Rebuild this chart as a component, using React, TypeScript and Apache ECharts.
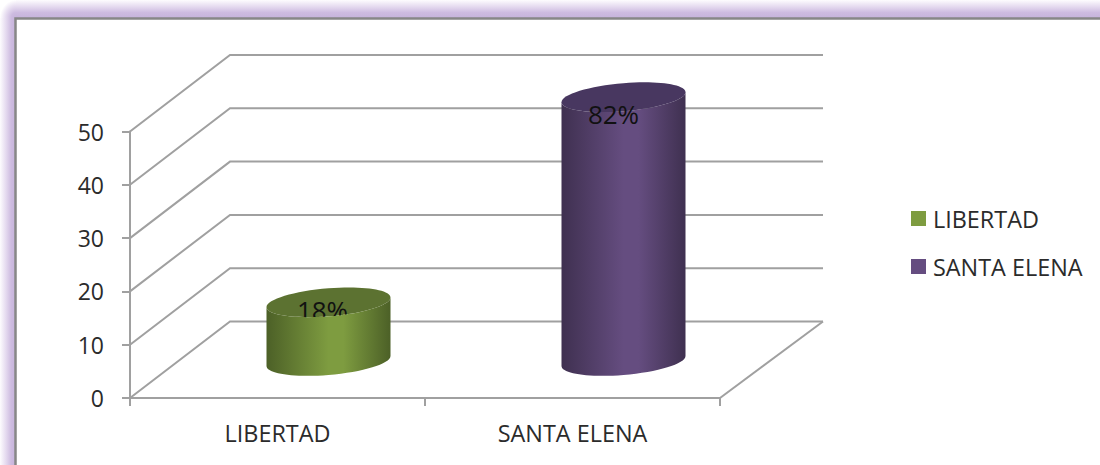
import React, { useEffect, useRef } from "react";
import * as echarts from "echarts";

const categories = ["LIBERTAD", "SANTA ELENA"];
const values = [11, 49.5];
const percentLabels = ["18%", "82%"];
const yTicks = [0, 10, 20, 30, 40, 50];
const faceColors = ["#7e9c40", "#654d80"];
const edgeColors = ["#4c6027", "#3f3050"];
const topColors = ["#5c7231", "#483760"];

const FONT = "'Open Sans', 'Noto Sans', sans-serif";
const LINE = "#a0a0a0";
const TEXT = "#2b2b2b";
const DEPTH_X = 100;
const DEPTH_Y = 76.5;
const RIGHT_DEPTH_X = 103;
const RX = 62;
const RY = 14;
const SHEAR = -0.08;
const K = 0.5523;

function wallRender(params: any, api: any) {
  const cs = params.coordSys;
  const y = api.coord([0, api.value(1)])[1];
  const left = cs.x;
  const right = cs.x + cs.width;
  const children: any[] = [
    {
      type: "polyline",
      shape: {
        points: [
          [left, y],
          [left + DEPTH_X, y - DEPTH_Y],
          [right + RIGHT_DEPTH_X, y - DEPTH_Y],
        ],
      },
      style: { fill: "none", stroke: LINE, lineWidth: 2 },
    },
  ];
  if (api.value(1) === 0) {
    children.push({
      type: "line",
      shape: { x1: right, y1: y, x2: right + RIGHT_DEPTH_X, y2: y - DEPTH_Y },
      style: { stroke: LINE, lineWidth: 2 },
    });
  }
  return { type: "group", children };
}

// Map from the unit circle to the sheared ellipse of a cylinder's end
function endMap(cx: number, cy: number) {
  return (u: number, v: number) => `${cx + RX * u} ${cy + RY * v + SHEAR * RX * u}`;
}

function cylinderRender(i: number, labelDx: number, labelDy: number, labelFront: boolean) {
  return (_params: any, api: any) => {
    const idx = api.value(0);
    const base = api.coord([idx, 0]);
    const top = api.coord([idx, api.value(1)]);
    const cx = base[0] + DEPTH_X / 2 + 1;
    const by = base[1] - DEPTH_Y / 2 + 1.25;
    const ty = top[1] - DEPTH_Y / 2 + 1.25;
    const T = endMap(cx, ty);
    const B = endMap(cx, by);
    const bodyPath =
      `M ${T(-1, 0)} L ${B(-1, 0)} ` +
      `C ${B(-1, K)} ${B(-K, 1)} ${B(0, 1)} ` +
      `C ${B(K, 1)} ${B(1, K)} ${B(1, 0)} ` +
      `L ${T(1, 0)} ` +
      `C ${T(1, K)} ${T(K, 1)} ${T(0, 1)} ` +
      `C ${T(-K, 1)} ${T(-1, K)} ${T(-1, 0)} Z`;
    const capPath =
      `M ${T(-1, 0)} ` +
      `C ${T(-1, -K)} ${T(-K, -1)} ${T(0, -1)} ` +
      `C ${T(K, -1)} ${T(1, -K)} ${T(1, 0)} ` +
      `C ${T(1, K)} ${T(K, 1)} ${T(0, 1)} ` +
      `C ${T(-K, 1)} ${T(-1, K)} ${T(-1, 0)} Z`;
    const body = {
      type: "path",
      shape: { pathData: bodyPath },
      style: {
        fill: new echarts.graphic.LinearGradient(0, 0, 1, 0, [
          { offset: 0, color: edgeColors[i] },
          { offset: 0.5, color: faceColors[i] },
          { offset: 0.62, color: faceColors[i] },
          { offset: 1, color: edgeColors[i] },
        ]),
      },
    };
    const cap = {
      type: "path",
      shape: { pathData: capPath },
      style: { fill: topColors[i] },
    };
    const label = {
      type: "text",
      x: cx + labelDx,
      y: ty + labelDy,
      style: {
        text: percentLabels[i],
        fill: "#111111",
        font: `26px ${FONT}`,
        align: "center",
        verticalAlign: "middle",
      },
    };
    return {
      type: "group",
      children: labelFront ? [body, cap, label] : [cap, label, body],
    };
  };
}

export default function App() {
  const ref = useRef<HTMLDivElement>(null);
  useEffect(() => {
    document.body.style.margin = "0";
    document.body.style.overflow = "hidden";
    const chart = echarts.init(ref.current!, null, { renderer: "svg" });
    const bandStops = [
      { offset: 0, color: "#fdfcfe" },
      { offset: 0.35, color: "#e6dcf0" },
      { offset: 0.7, color: "#cdbbe0" },
      { offset: 1, color: "#c6b3db" },
    ];
    chart.setOption({
      animation: false,
      backgroundColor: "#ffffff",
      graphic: [
        {
          type: "rect",
          z: -10,
          silent: true,
          shape: { x: 16, y: 0, width: 1084, height: 18 },
          style: { fill: new echarts.graphic.LinearGradient(0, 0, 0, 1, bandStops) },
        },
        {
          type: "rect",
          z: -10,
          silent: true,
          shape: { x: 0, y: 18, width: 16, height: 447 },
          style: { fill: new echarts.graphic.LinearGradient(0, 0, 1, 0, bandStops) },
        },
        {
          type: "rect",
          z: -10,
          silent: true,
          shape: { x: 0, y: 0, width: 16, height: 18 },
          style: {
            fill: new echarts.graphic.RadialGradient(1, 1, 1, [
              { offset: 0, color: "#c6b3db" },
              { offset: 0.3, color: "#cdbbe0" },
              { offset: 0.65, color: "#e6dcf0" },
              { offset: 1, color: "#ffffff" },
            ]),
          },
        },
        {
          type: "rect",
          z: -9,
          silent: true,
          shape: { x: 15.5, y: 18.5, width: 1100, height: 470 },
          style: { fill: "#ffffff", stroke: "#878787", lineWidth: 2.5 },
        },
      ],
      grid: { left: 130, top: 131.5, width: 590, height: 266.5 },
      legend: {
        data: categories,
        orient: "vertical",
        left: 906,
        top: 202,
        icon: "rect",
        itemWidth: 15,
        itemHeight: 15,
        itemGap: 25,
        selectedMode: false,
        textStyle: { fontFamily: FONT, fontSize: 23.4, color: TEXT, padding: [0, 0, 0, 2] },
      },
      xAxis: {
        type: "category",
        data: categories,
        boundaryGap: true,
        axisLine: { lineStyle: { color: LINE, width: 2 } },
        axisTick: { show: true, length: 8, lineStyle: { color: LINE, width: 2 } },
        axisLabel: { fontFamily: FONT, fontSize: 23.4, color: TEXT, margin: 23 },
        splitLine: { show: false },
      },
      yAxis: {
        type: "value",
        min: 0,
        max: 50,
        interval: 10,
        axisLine: { show: true, lineStyle: { color: LINE, width: 2 } },
        axisTick: { show: true, length: 8, lineStyle: { color: LINE, width: 2 } },
        axisLabel: { fontFamily: FONT, fontSize: 23, color: TEXT, margin: 26 },
        splitLine: { show: false },
      },
      series: [
        {
          type: "custom",
          name: "walls",
          coordinateSystem: "cartesian2d",
          clip: false,
          silent: true,
          z: 1,
          encode: { x: 0, y: 1 },
          data: yTicks.map((t) => [0, t]),
          renderItem: wallRender,
        },
        ...categories.map((name, i) => ({
          type: "custom",
          name,
          coordinateSystem: "cartesian2d",
          clip: false,
          silent: true,
          z: 2,
          itemStyle: { color: faceColors[i] },
          encode: { x: 0, y: 1 },
          data: [[i, values[i]]],
          renderItem: cylinderRender(i, i === 0 ? -6 : -10, i === 0 ? 8 : 17, i !== 0),
        })),
      ],
    });
    return () => chart.dispose();
  }, []);
  return <div ref={ref} style={{ position: "absolute", left: 0, top: 0, width: 1100, height: 465 }} />;
}
